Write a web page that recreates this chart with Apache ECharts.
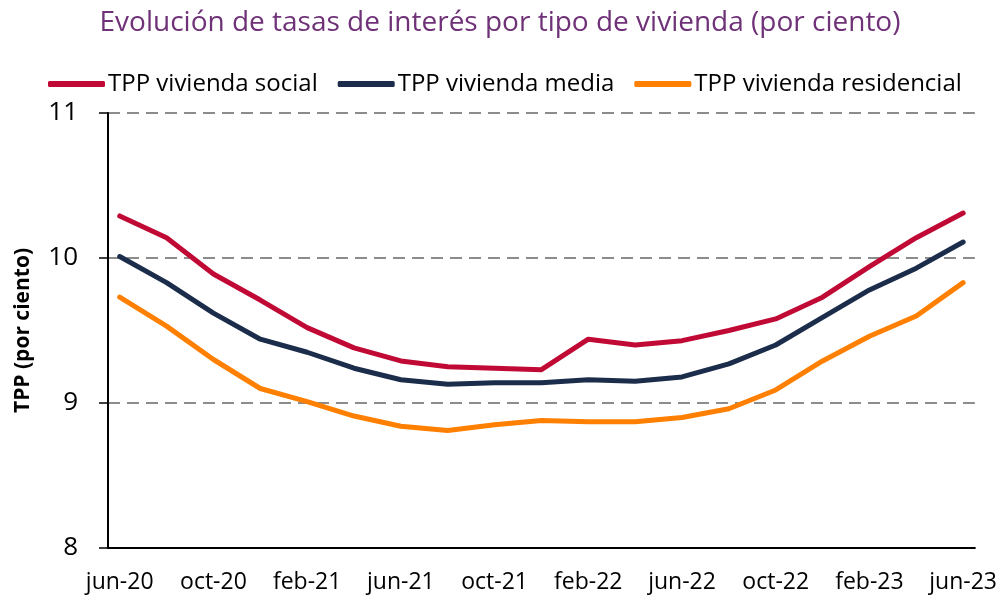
<!DOCTYPE html>
<html>
<head>
<meta charset="utf-8">
<script src="https://cdn.jsdelivr.net/npm/echarts@6/dist/echarts.min.js"></script>
<style>
    html, body { margin: 0; padding: 0; background: #fff; }
    #chart { width: 1000px; height: 595px; }
</style>
</head>
<body>
<div id="chart"></div>
<script>
// monthly axis slots (Excel date axis, base unit = month)
const months = [
    "jun-20", "jul-20", "ago-20", "sep-20", "oct-20", "nov-20", "dic-20",
    "ene-21", "feb-21", "mar-21", "abr-21", "may-21", "jun-21", "jul-21",
    "ago-21", "sep-21", "oct-21", "nov-21", "dic-21", "ene-22", "feb-22",
    "mar-22", "abr-22", "may-22", "jun-22", "jul-22", "ago-22", "sep-22",
    "oct-22", "nov-22", "dic-22", "ene-23", "feb-23", "mar-23", "abr-23",
    "may-23", "jun-23",
];
// data is bimonthly: jun-20, ago-20, oct-20 ... jun-23
const social = [10.29, 10.14, 9.89, 9.71, 9.52, 9.38, 9.29, 9.25, 9.24, 9.23, 9.44, 9.40, 9.43, 9.50, 9.58, 9.73, 9.94, 10.14, 10.31];
const media = [10.01, 9.83, 9.62, 9.44, 9.35, 9.24, 9.16, 9.13, 9.14, 9.14, 9.16, 9.15, 9.18, 9.27, 9.40, 9.59, 9.78, 9.93, 10.11];
const residencial = [9.73, 9.53, 9.30, 9.10, 9.01, 8.91, 8.84, 8.81, 8.85, 8.88, 8.87, 8.87, 8.90, 8.96, 9.09, 9.29, 9.46, 9.60, 9.83];

const names = ["TPP vivienda social", "TPP vivienda media", "TPP vivienda residencial"];
const colors = ["#C00A35", "#1B2D4B", "#FF7F00"];

// put bimonthly values on the monthly axis
function toMonthly(values) {
    const out = months.map(() => null);
    values.forEach((v, i) => { out[i * 2] = v; });
    return out;
}

const font = "'Open Sans', 'Noto Sans', sans-serif";

const myChart = echarts.init(document.getElementById("chart"));
const option = {
    animation: false,
    title: {
        text: "Evolución de tasas de interés por tipo de vivienda (por ciento)",
        left: "center",
        top: 4,
        textStyle: { color: "#6F3177", fontSize: 28, fontWeight: "normal", fontFamily: font },
    },
    legend: {
        left: 43,
        top: 67,
        itemWidth: 57,
        itemHeight: 6,
        itemGap: 20,
        icon: "roundRect",
        textStyle: { color: "#000", fontSize: 24, fontFamily: font, padding: [0, 0, 0, -2] },
        data: names,
    },
    grid: { left: 108, right: 25, top: 113, bottom: 47 },
    xAxis: {
        type: "category",
        data: months,
        boundaryGap: true,
        axisLine: { lineStyle: { color: "#000", width: 2 } },
        axisTick: { interval: 3, length: 9, lineStyle: { color: "#000", width: 1.5 } },
        axisLabel: { interval: 3, color: "#000", fontSize: 23, fontFamily: font, margin: 23 },
    },
    yAxis: {
        type: "value",
        min: 8,
        max: 11,
        interval: 1,
        name: "TPP (por ciento)",
        nameLocation: "middle",
        nameGap: 74,
        nameTextStyle: { color: "#000", fontSize: 21, fontWeight: "bold", fontFamily: font },
        axisLine: { show: true, lineStyle: { color: "#000", width: 2 } },
        axisTick: { show: true, length: 9, lineStyle: { color: "#000", width: 1.5 } },
        axisLabel: { color: "#000", fontSize: 26, fontFamily: font, margin: 30 },
        splitLine: { lineStyle: { color: "#8C8C8C", width: 2, type: [12, 7] } },
    },
    series: [social, media, residencial].map((vals, i) => ({
        name: names[i],
        type: "line",
        data: toMonthly(vals),
        connectNulls: true,
        showSymbol: false,
        symbol: "none",
        color: colors[i],
        lineStyle: { width: 5, cap: "round", join: "round" },
    })),
};
option && myChart.setOption(option);
</script>
</body>
</html>
